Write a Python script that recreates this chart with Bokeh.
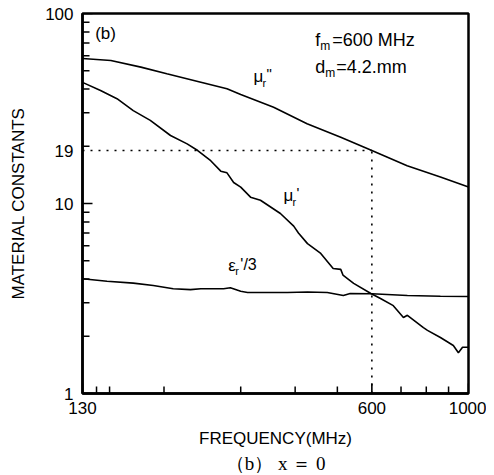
from bokeh.plotting import figure
from bokeh.models import FixedTicker, NumeralTickFormatter, Label, Title
from bokeh.embed import file_html
from bokeh.resources import INLINE
import math

# ---- data ----
freq_mu2 = [130, 151, 177, 203, 243, 279, 300, 357, 426, 509, 600, 723, 862, 1000]
mu2 = [58.0, 56.6, 52.2, 48.2, 43.5, 40.2, 37.5, 32.1, 26.3, 22.3, 19.0, 15.8, 13.8, 12.2]

freq_mu1 = [130, 143, 156, 170, 186, 207, 226, 239, 256, 270, 279, 289, 300, 316, 333,
            370, 397, 407, 427, 458, 489, 509, 515, 545, 597, 628, 672, 709, 724, 788,
            805, 862, 923, 948, 969, 1000]
mu1 = [43.4, 39.3, 35.6, 30.8, 27.4, 22.8, 20.6, 19.0, 16.8, 14.8, 14.5, 12.9, 12.2, 10.8, 10.4,
       8.86, 7.6, 7.0, 6.15, 5.46, 4.55, 4.5, 4.2, 3.8, 3.36, 3.16, 2.9, 2.51, 2.58, 2.22,
       2.15, 1.97, 1.79, 1.64, 1.75, 1.75]

freq_eps = [130, 148, 170, 189, 210, 230, 243, 274, 284, 300, 311, 357, 384, 427, 474,
            516, 535, 600, 724, 862, 1000]
eps3 = [4.02, 3.90, 3.81, 3.70, 3.56, 3.52, 3.56, 3.56, 3.60, 3.45, 3.40, 3.40, 3.40, 3.42, 3.40,
        3.28, 3.36, 3.35, 3.28, 3.25, 3.24]

x_ticks = [130, 600, 1000]
x_minor = [140, 150, 200, 300, 400, 500, 700, 800, 900]
y_ticks = [1, 10, 19, 100]
y_major_marks = [1, 10, 100]
y_minor = [2, 3, 4, 5, 6, 7, 8, 9, 20, 30, 40, 50, 60, 70, 80, 90]

f_match = 600      # f_m
mu_at_match = 19   # level marked on y axis
x_lo, x_hi = 130, 1000
y_lo, y_hi = 1, 100

FONT = "Liberation Sans"
FRAME_W, FRAME_H = 386, 380

p = figure(frame_width=FRAME_W, frame_height=FRAME_H,
           x_axis_type="log", y_axis_type="log",
           x_range=(x_lo, x_hi), y_range=(y_lo, y_hi),
           output_backend="svg", toolbar_location=None,
           min_border_left=82, min_border_right=18, min_border_top=13,
           min_border_bottom=0,
           background_fill_color=None, border_fill_color=None)

p.xgrid.visible = False
p.ygrid.visible = False
p.outline_line_color = "black"
p.outline_line_width = 2.5

for ax in (p.xaxis[0], p.yaxis[0]):
    ax.axis_line_width = 2.5
    ax.axis_line_color = "black"
    ax.major_tick_in = 0
    ax.major_tick_out = 0
    ax.minor_tick_in = 0
    ax.minor_tick_out = 0
    ax.major_label_text_font = FONT
    ax.major_label_text_font_size = "17px"
    ax.major_label_text_color = "black"
    ax.axis_label_text_font = FONT
    ax.axis_label_text_font_size = "17px"
    ax.axis_label_text_font_style = "normal"
    ax.axis_label_text_color = "black"
    ax.formatter = NumeralTickFormatter(format="0")

p.xaxis.ticker = FixedTicker(ticks=x_ticks, minor_ticks=x_minor)
p.yaxis.ticker = FixedTicker(ticks=y_ticks, minor_ticks=y_minor)
p.xaxis.major_label_standoff = 8
p.yaxis.major_label_standoff = 9
p.xaxis.axis_label = "FREQUENCY(MHz)"
p.yaxis.axis_label = "MATERIAL CONSTANTS"
p.xaxis.axis_label_standoff = 12
p.yaxis.axis_label_standoff = 14

# inward tick marks drawn as short segments (length in pixels converted
# through each axis's log scale)
px_per_dec_x = FRAME_W / math.log10(x_hi / x_lo)
px_per_dec_y = FRAME_H / math.log10(y_hi / y_lo)


def ytick_len(px):
    return y_lo * 10 ** (px / px_per_dec_y)


def xtick_len(px):
    return x_lo * 10 ** (px / px_per_dec_x)


TICK_COLOR = "black"
p.segment(x0=x_minor, x1=x_minor, y0=[y_lo] * len(x_minor), y1=[ytick_len(7)] * len(x_minor),
          line_color=TICK_COLOR, line_width=1.5)
p.segment(x0=x_ticks, x1=x_ticks, y0=[y_lo] * len(x_ticks), y1=[ytick_len(10)] * len(x_ticks),
          line_color=TICK_COLOR, line_width=1.6)
p.segment(x0=[x_lo] * len(y_minor), x1=[xtick_len(7)] * len(y_minor), y0=y_minor, y1=y_minor,
          line_color=TICK_COLOR, line_width=1.5)
p.segment(x0=[x_lo] * len(y_major_marks), x1=[xtick_len(10)] * len(y_major_marks),
          y0=y_major_marks, y1=y_major_marks, line_color=TICK_COLOR, line_width=1.6)

# reference dotted lines
p.segment(x0=[x_lo], y0=[mu_at_match], x1=[f_match], y1=[mu_at_match],
          line_color="black", line_width=1.6, line_dash="2 6")
p.segment(x0=[f_match], y0=[y_lo], x1=[f_match], y1=[mu_at_match],
          line_color="black", line_width=1.6, line_dash="2 6")

# curves
p.line(freq_mu2, mu2, line_color="black", line_width=1.6)
p.line(freq_mu1, mu1, line_color="black", line_width=1.6)
p.line(freq_eps, eps3, line_color="black", line_width=1.6)


def add_text(x, y, pieces):
    for text, dx, dy, size in pieces:
        p.add_layout(Label(x=x, y=y, text=text, x_offset=dx, y_offset=dy,
                           text_font=FONT, text_font_size=size,
                           text_baseline="middle", text_align="left",
                           text_color="black"))


add_text(139, 78.5, [("(b)", 0, 0, "17px")])
add_text(445, 72.1, [("f", 0, 0, "18px"), ("m", 5, -6, "12px"), ("=600 MHz", 17, 0, "18px")])
add_text(445, 52.2, [("d", 0, 0, "18px"), ("m", 10, -6, "12px"), ("=4.2.mm", 21, 0, "18px")])
add_text(321, 46.6, [("\u03bc", 0, 0, "17px"), ("r", 9, -6, "11px"), ("\"", 13, 3, "15px")])
add_text(376, 11.0, [("\u03bc", 0, 0, "17px"), ("r", 9, -6, "11px"), ("'", 13, 3, "15px")])
add_text(281, 4.72, [("\u03b5", 0, 0, "17px"), ("r", 7, -6, "11px"), ("'/3", 12, 1, "16px")])

p.add_layout(Title(text="\uff08b\uff09 x \uff1d 0", text_font="Liberation Serif",
                   text_font_size="19px", text_font_style="normal",
                   align="center", offset=-7, text_color="black", standoff=0), "below")

open("out.html", "w").write(file_html(p, INLINE))
